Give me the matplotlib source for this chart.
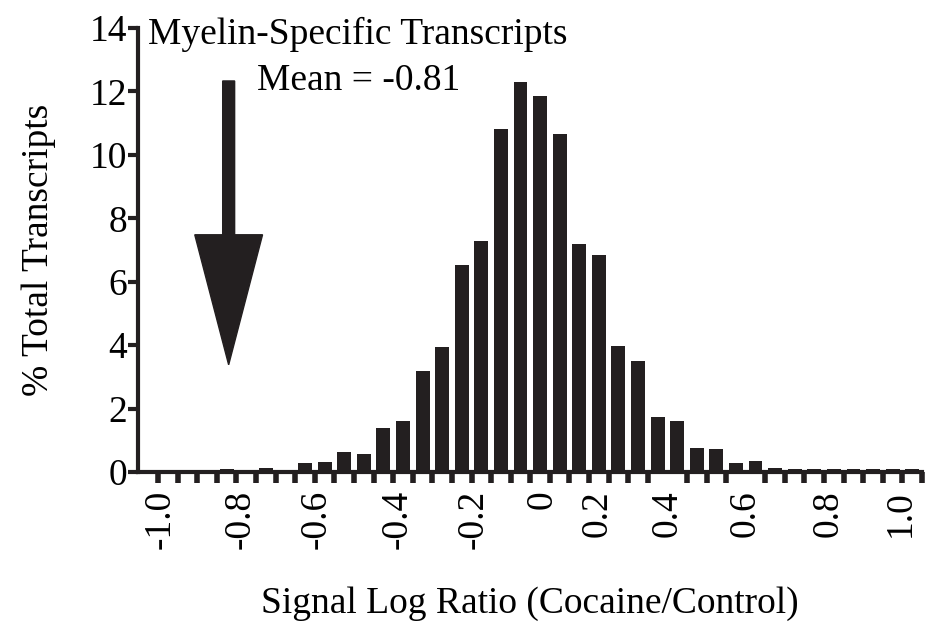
import numpy as np
import matplotlib
matplotlib.use("Agg")
import matplotlib.pyplot as plt

plt.rcParams['font.family'] = ['Liberation Serif', 'DejaVu Serif']

# % of transcripts per signal-log-ratio bin (left to right)
pct = [0.0, 0.0, 0.0, 0.1, 0.0, 0.12, 0.05, 0.29, 0.33, 0.64,
       0.57, 1.38, 1.6, 3.2, 3.94, 6.53, 7.29, 10.82, 12.3, 11.87,
       10.66, 7.19, 6.85, 3.97, 3.5, 1.73, 1.61, 0.77, 0.73, 0.29,
       0.35, 0.14, 0.1, 0.08, 0.1, 0.1, 0.08, 0.1, 0.1]
tick_text = ['-1.0', '-0.8', '-0.6', '-0.4', '-0.2', '0',
             '0.2', '0.4', '0.6', '0.8', '1.0']
# where each label sits, in bin units, as printed on the original
tick_bins = [-0.4, 3.7, 7.6, 11.7, 15.6, 19.1, 21.9, 25.5, 29.5, 33.7, 37.4]
yticks = [0, 2, 4, 6, 8, 10, 12, 14]

ink = '#231f20'
fs = 27

fig = plt.figure(figsize=(9.26, 6.29), dpi=100)
ax = fig.add_axes([0.149, 0.2496, 0.8467, 0.7059])

bins = np.arange(len(pct))
ax.bar(bins, pct, width=0.71, color=ink, zorder=2)

ax.set_xlim(-1.53, 38.4)
ax.set_ylim(0, 14)

for s in ['top', 'right']:
    ax.spines[s].set_visible(False)
for s in ['left', 'bottom']:
    ax.spines[s].set_linewidth(3)
    ax.spines[s].set_color(ink)
    ax.spines[s].set_zorder(3)

ax.set_yticks(yticks)
ax.set_yticklabels([str(v) for v in yticks], fontsize=fs)
ax.tick_params(axis='y', length=7, width=3, pad=1, color=ink)

ax.set_xticks(tick_bins)
ax.set_xticklabels(tick_text, rotation=90, fontsize=fs)
ax.set_xticks(np.arange(-0.5, len(pct), 1.0), minor=True)
ax.tick_params(axis='x', which='major', length=0, pad=13)
ax.tick_params(axis='x', which='minor', length=8, width=4, color=ink)

ax.set_xlabel('Signal Log Ratio (Cocaine/Control)', fontsize=fs, labelpad=27)
ax.set_ylabel('% Total Transcripts', fontsize=fs, labelpad=24)

# arrow marking the myelin-specific mean
ax.arrow(3.1, 12.33, 0, -8.95, width=0.61, head_width=3.46, head_length=4.1,
         length_includes_head=True, color=ink, zorder=4)

ax.text(0.0128, 0.964, 'Myelin-Specific Transcripts', transform=ax.transAxes,
        fontsize=fs, va='baseline', ha='left')
ax.text(0.281, 0.86, 'Mean = -0.81', transform=ax.transAxes,
        fontsize=fs, va='baseline', ha='center')

fig.savefig('out.png', dpi=100)
